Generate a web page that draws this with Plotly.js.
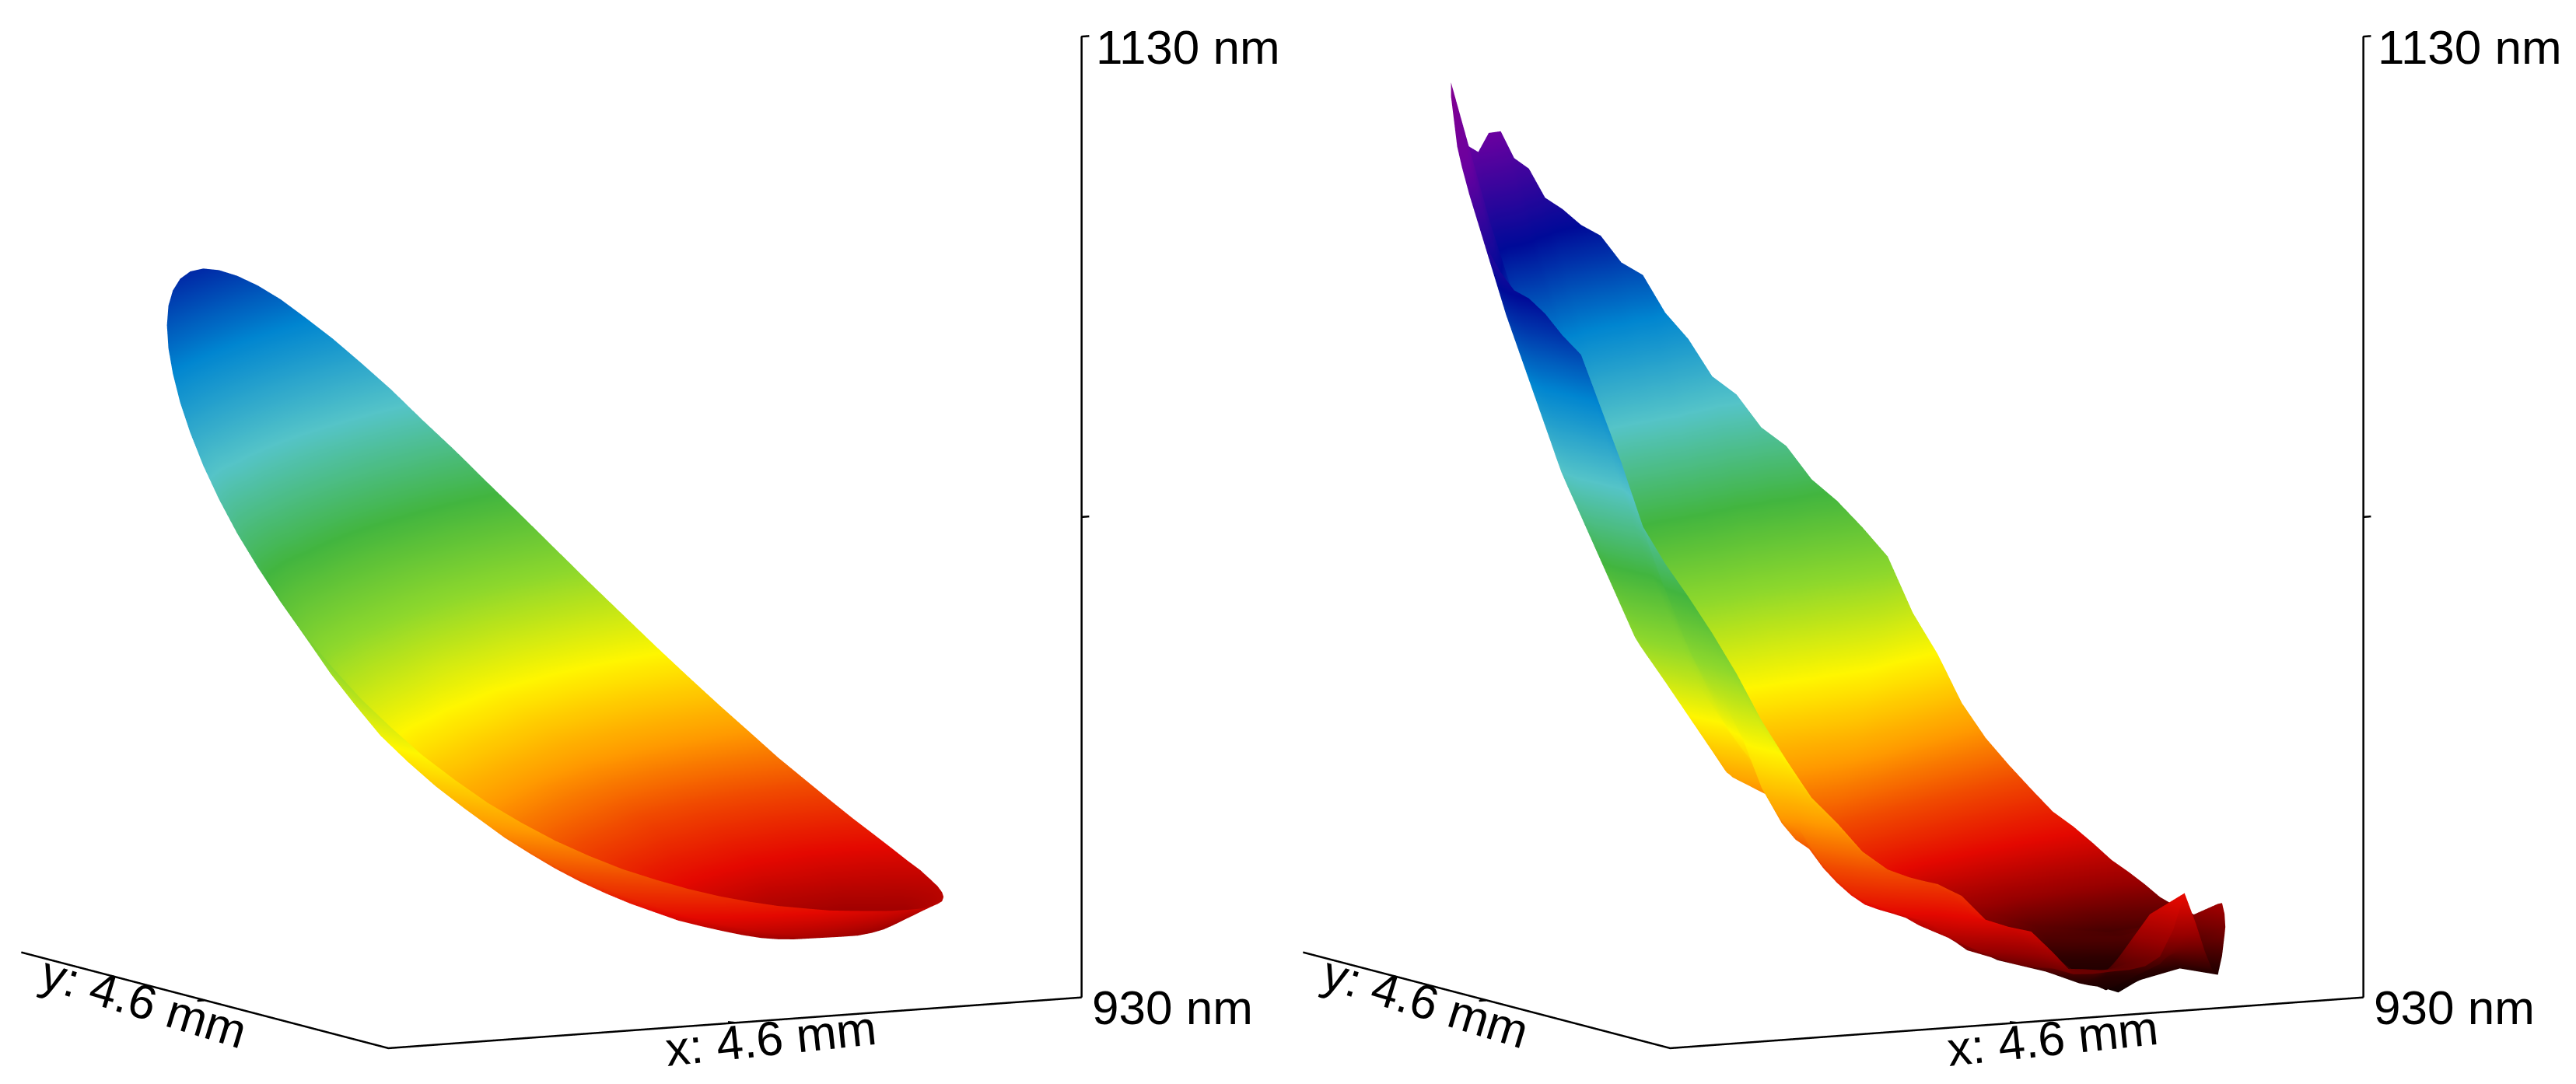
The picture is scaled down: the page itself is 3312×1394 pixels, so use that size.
<!DOCTYPE html>
<html>
<head>
<meta charset="utf-8">
<script src="https://cdn.plot.ly/plotly-3.0.1.min.js"></script>
<style>html,body{margin:0;padding:0;background:#fff}</style>
</head>
<body>
<div id="plot" style="width:3312px;height:1394px"></div>
<script>
var ringsLeft = [0, 0.3, 0.55, 0.75, 0.9, 1];
var anglesLeft = [0,5,10,15,20,25,30,35,40,45,50,55,60,65,70,75,80,85,90,95,100,105,110,115,120,125,130,135,140,145,150,155,160,165,170,175,180,185,190,195,200,205,210,215,220,225,230,235,240,245,250,255,260,265,270,275,280,285,290,295,300,305,310,315,320,325,330,335,340,345,350,355];
var zLeft = [
  [969,969,969,969,969,969,969,969,969,969,969,969,969,969,969,969,969,969,969,969,969,969,969,969,969,969,969,969,969,969,969,969,969,969,969,969,969,969,969,969,969,969,969,969,969,969,969,969,969,969,969,969,969,969,969,969,969,969,969,969,969,969,969,969,969,969,969,969,969,969,969,969],
  [954.3,954.7,955.4,956.0,956.8,957.6,958.5,959.6,960.8,962.1,963.5,964.9,966.5,968.0,969.6,971.3,973.1,974.8,976.5,978.2,979.9,981.5,983.0,984.5,985.8,987.1,988.2,989.1,989.9,990.5,991.0,991.3,991.5,991.4,991.2,990.8,990.2,989.4,988.6,987.4,986.3,984.9,983.6,982.0,980.6,978.9,977.2,975.6,973.8,972.1,970.5,969.0,967.4,965.9,964.4,963.1,961.8,960.6,959.5,958.4,957.5,956.6,955.9,955.2,954.6,954.2,954.0,953.7,953.6,953.6,953.8,954.0],
  [946.5,947.2,948.2,949.3,950.5,951.6,953.2,954.8,956.7,958.7,961.1,963.5,966.3,969.2,972.2,975.4,978.7,982.0,985.4,988.8,992.1,995.3,998.5,1001.5,1004.3,1006.8,1009.1,1011.1,1012.7,1014.0,1015.0,1015.6,1015.8,1015.7,1015.0,1014.2,1012.8,1011.2,1009.3,1006.7,1004.1,1001.3,998.3,995.0,991.8,988.3,984.8,981.4,977.7,974.8,971.8,969.0,966.3,963.8,961.2,959.0,956.9,955.1,953.3,951.7,950.3,949.0,947.9,946.9,946.1,945.6,945.1,945.0,944.9,945.1,945.5,945.9],
  [943.5,944.4,945.5,946.8,947.9,949.3,950.9,952.9,955.1,957.7,960.7,963.9,967.6,971.5,975.7,980.0,984.7,989.4,994.3,999.1,1004.0,1008.7,1013.3,1017.9,1022.0,1025.8,1029.1,1032.2,1034.6,1036.5,1037.9,1038.7,1039.0,1038.7,1037.7,1036.3,1034.2,1031.8,1029.0,1024.9,1020.9,1016.7,1012.2,1007.5,1002.6,997.5,992.4,987.5,982.2,978.2,974.1,970.4,966.8,963.6,960.5,957.7,955.2,952.9,950.9,948.9,947.4,946.0,944.7,943.6,942.8,942.2,941.8,941.7,941.7,941.9,942.4,942.8],
  [943.8,944.5,945.4,946.5,947.5,948.8,950.5,952.6,955.0,958.0,961.3,965.0,969.4,974.0,979.0,984.4,990.0,995.8,1001.9,1008.1,1014.1,1020.2,1025.9,1031.7,1037.0,1041.8,1046.0,1049.9,1053.0,1055.4,1057.2,1058.2,1058.6,1058.1,1056.8,1054.9,1052.3,1049.0,1045.4,1040.3,1035.4,1030.1,1024.6,1018.6,1012.8,1006.6,1000.4,994.5,988.5,983.5,978.7,974.3,970.1,966.3,962.8,959.8,957.0,954.7,952.4,950.6,948.9,947.5,946.3,945.2,944.3,943.7,943.2,943.0,942.9,942.9,943.2,943.3],
  [946.2,946.2,946.5,947.0,948.0,949.1,950.8,952.9,955.4,958.5,962.1,966.1,970.9,976.0,981.6,987.6,994.0,1000.6,1007.5,1014.5,1021.4,1028.4,1035.0,1041.7,1047.7,1053.3,1058.2,1062.7,1066.3,1069.1,1071.1,1072.3,1072.6,1072.0,1070.5,1068.3,1065.2,1061.4,1057.1,1052.0,1046.6,1040.7,1034.6,1028.3,1022.0,1015.5,1009.1,1003.1,997.1,991.6,986.2,981.4,976.8,972.8,969.1,965.9,963.0,960.6,958.4,956.5,954.9,953.5,952.4,951.3,950.5,949.7,948.9,948.25,947.6,947.0,946.7,946.3]
];
var ringsRight = [0, 0.3, 0.55, 0.75, 0.9, 1];
var anglesRight = [0,3.75,7.5,11.25,15,18.75,22.5,26.25,30,33.75,37.5,41.25,45,48.75,52.5,56.25,60,63.75,67.5,71.25,75,78.75,82.5,86.25,90,93.75,97.5,101.25,105,108.75,112.5,116.25,120,123.75,127.5,131.25,135,138.75,142.5,146.25,150,153.75,157.5,161.25,165,168,173.7,186.3,192,195,198.75,202.5,206.25,210,213.75,217.5,221.25,225,228.75,232.5,236.25,240,243.75,247.5,251.25,255,258.75,262.5,266.25,270,273.75,277.5,281.25,285,288.75,292.5,296.25,300,303.75,307.5,311.25,315,318.75,322.5,326.25,330,333.5,337.5,341.25,345,348.75,352.5,356.25];
var zRight = [
  [960,960,960,960,960,960,960,960,960,960,960,960,960,960,960,960,960,960,960,960,960,960,960,960,960,960,960,960,960,960,960,960,960,960,960,960,960,960,960,960,960,960,960,960,960,960,960,960,960,960,960,960,960,960,960,960,960,960,960,960,960,960,960,960,960,960,960,960,960,960,960,960,960,960,960,960,960,960,960,960,960,960,960,960,960,960,960,960,960,960,960,960,960],
  [941.4,942.0,942.4,942.9,943.4,944.2,944.8,946.0,947.0,948.3,949.7,951.2,952.7,954.3,956.0,957.5,959.2,960.8,962.6,964.3,966.3,968.0,969.9,971.3,972.4,973.3,974.4,975.0,975.9,976.3,977.0,977.3,977.9,977.8,978.1,977.8,977.7,977.4,977.5,977.1,977.2,976.6,975.8,975.5,975.2,975.3,975.6,974.9,973.9,973.6,973.2,973.0,972.6,972.5,972.4,972.6,972.6,972.5,972.3,971.6,970.7,969.7,969.0,968.4,967.6,966.7,965.6,964.4,963.3,962.3,961.1,960.1,959.1,958.1,956.8,955.5,954.2,953.0,951.5,950.0,948.9,947.8,946.8,945.8,945.0,944.6,944.5,943.1,942.1,941.2,940.8,940.9,941.2],
  [934.2,935.2,936.0,936.4,936.8,937.4,937.8,939.3,940.6,942.3,944.4,946.5,948.7,951.2,953.7,956.0,958.9,961.7,964.8,968.2,972.6,976.2,980.8,983.4,985.9,987.9,990.6,992.0,994.4,995.6,998.1,999.7,1002.0,1002.5,1003.9,1004.1,1004.8,1004.9,1006.3,1006.5,1007.8,1007.2,1005.5,1005.6,1005.5,1006.3,1008.7,1007.8,1004.9,1003.8,1002.3,1001.0,999.6,998.6,998.0,997.9,997.4,996.5,995.6,992.7,989.5,985.7,982.4,979.4,974.1,967.5,964.2,962.3,958.4,955.3,952.7,950.7,949.6,948.7,947.7,946.0,944.7,943.6,941.9,940.0,939.1,938.3,937.1,936.4,936.4,938.9,940.1,937.2,934.6,932.7,931.9,932.7,933.8],
  [933.8,935.2,936.3,936.4,936.0,936.1,935.8,937.3,938.3,940.0,942.2,944.4,946.7,949.6,952.5,955.2,958.8,962.6,966.7,971.6,978.2,983.8,991.1,995.2,998.8,1001.8,1006.1,1008.6,1012.7,1015.0,1019.6,1022.6,1027.1,1028.5,1031.6,1032.7,1034.3,1035.6,1038.8,1039.9,1042.9,1042.5,1040.2,1040.8,1041.4,1043.1,1048.4,1047.5,1042.2,1040.1,1037.4,1034.7,1031.8,1029.9,1028.4,1028.0,1026.7,1024.6,1022.9,1017.2,1011.1,1003.9,998.7,994.0,986.7,977.0,970.8,968.9,962.6,958.2,954.7,953.0,951.4,950.1,948.8,946.0,943.7,941.8,940.7,938.9,937.8,937.3,935.7,934.8,932.9,932.0,931.3,930.0,930.6,928.5,929.5,931.1,933.1],
  [936.6,938.4,939.7,939.3,938.2,937.6,936.6,937.6,938.3,939.6,941.7,943.8,946.1,949.1,952.1,954.8,958.9,963.2,968.1,974.2,982.8,990.0,999.8,1004.9,1009.7,1013.5,1019.4,1022.7,1028.5,1031.7,1038.2,1042.9,1049.5,1051.7,1056.5,1058.4,1061.3,1063.5,1068.5,1070.6,1075.4,1075.3,1072.5,1073.7,1075.0,1077.6,1085.8,1085.1,1077.6,1074.6,1070.6,1066.6,1062.3,1059.3,1056.9,1056.2,1054.1,1051.0,1048.2,1039.8,1031.0,1020.4,1014.4,1009.1,1003.2,996.4,988.6,981.8,975.3,970.9,965.7,962.3,960.4,959.0,956.4,951.8,949.8,948.2,944.0,939.5,938.7,938.3,937.6,937.4,938.1,941.8,947.1,936.1,937.7,935.9,933.3,932.9,935.8],
  [940,942,943.5,942.6,941,939.7,938,938.8,939,940,942,944,946,949,952,954.7,959,963.7,969,976,986,994.4,1006,1012,1017.5,1022,1029,1033,1040,1044,1052,1057.8,1066,1069,1075,1077.7,1081.5,1084.4,1091,1093.8,1100,1100.3,1097,1098.8,1100.6,1104,1114.5,1114,1104.7,1101,1096,1091,1085.5,1081.8,1078.7,1077.6,1075,1071,1067.5,1057,1046,1033,1025.6,1019,1011.7,1003.5,994,985.8,978,972.8,966.8,963,961,959.7,957,951.8,950,948.7,944,939,938.6,938.6,938.4,938.6,940,945,952,945,938.5,934,932.2,935.4,939]
];
var colorZ = [925,933,942,951,960,971,986,1003,1019,1038,1058,1078,1100,1130];
var colorHex = ['#000000','#2a0000','#960000','#e40800','#f04800','#ff9a00','#fff600','#8ed82c','#42b53f','#55c4c8','#0085d0','#000a98','#6a00a0','#9a0080'];
var zMin = 930, zMax = 1130;
var spanMm = 4.6;
var discX = 2.32, discY = 2.29, discR = 2.277;
var viewTurn = 27.9;
var cMin = colorZ[0], cMax = colorZ[colorZ.length - 1];

var colorscale = colorZ.map(function(v, i) { return [(v - cMin) / (cMax - cMin), colorHex[i]]; });

// rings in the view frame turned into x/y on the 4.6 mm square
function ringGrid(radii, angles, zRows) {
  var xs = [], ys = [], zs = [];
  radii.forEach(function(r, i) {
    var rowX = [], rowY = [], rowZ = [];
    angles.concat([angles[0]]).forEach(function(t, j) {
      var th = (t - viewTurn) * Math.PI / 180;
      rowX.push(discX + discR * r * Math.cos(th));
      rowY.push(discY + discR * r * Math.sin(th));
      rowZ.push(zRows[i][j % angles.length]);
    });
    xs.push(rowX); ys.push(rowY); zs.push(rowZ);
  });
  return {x: xs, y: ys, z: zs};
}

function surfaceTrace(grid, scene) {
  return {
    type: 'surface', scene: scene, x: grid.x, y: grid.y, z: grid.z,
    cmin: cMin, cmax: cMax, colorscale: colorscale, showscale: false, hoverinfo: 'skip',
    lighting: {ambient: 1, diffuse: 0, specular: 0, roughness: 1, fresnel: 0}
  };
}

function axisTrace(scene) {
  return {
    type: 'scatter3d', mode: 'lines', scene: scene, hoverinfo: 'skip', showlegend: false,
    x: [spanMm, 0, 0, null, spanMm, spanMm, spanMm + 0.05, null, spanMm, spanMm + 0.05, null, spanMm / 2, spanMm / 2 - 0.02, null, 0, -0.05],
    y: [0, 0, spanMm, null, 0, 0, 0, null, 0, 0, null, 0, 0.05, null, spanMm / 2, spanMm / 2],
    z: [zMin, zMin, zMin, null, zMin, zMax, zMax, null, (zMin + zMax) / 2, (zMin + zMax) / 2, null, zMin, zMin, null, zMin, zMin],
    line: {color: '#000', width: 5}
  };
}

function sceneLayout(left) {
  var hidden = {visible: false};
  return {
    domain: {x: [left / 3312, (left + 1418) / 3312], y: [0, 1]},
    xaxis: Object.assign({range: [-0.1, 4.7]}, hidden),
    yaxis: Object.assign({range: [-0.1, 4.7]}, hidden),
    zaxis: Object.assign({range: [925, 1135]}, hidden),
    aspectmode: 'manual',
    aspectratio: {x: 1.510, y: 1.510, z: 1.8795},
    camera: {
      projection: {type: 'orthographic'},
      up: {x: 0, y: 0, z: 1},
      center: {x: 0, y: 0, z: -0.0886},
      eye: {x: -0.4633 * 2, y: -0.875 * 2, z: 0.1383 * 2 - 0.0886}
    }
  };
}

function label(text, px, py, angle) {
  return {
    text: text, xref: 'paper', yref: 'paper', x: px / 3312, y: 1 - py / 1394,
    xanchor: 'center', yanchor: 'middle', showarrow: false, textangle: angle,
    font: {family: 'Liberation Sans', size: 62, color: '#000'}
  };
}

var panelOffsets = [0, 1648];
var annotations = [];
panelOffsets.forEach(function(dx) {
  annotations.push(label('1130 nm', 1527 + dx, 60, 0));
  annotations.push(label('930 nm', 1507 + dx, 1295, 0));
  annotations.push(label('x: 4.6 mm', 991 + dx, 1335, -6));
  annotations.push(label('y: 4.6 mm', 185 + dx, 1288, 17));
});

var traces = [
  surfaceTrace(ringGrid(ringsLeft, anglesLeft, zLeft), 'scene'), axisTrace('scene'),
  surfaceTrace(ringGrid(ringsRight, anglesRight, zRight), 'scene2'), axisTrace('scene2')
];
var layout = {
  width: 3312, height: 1394, margin: {l: 0, r: 0, t: 0, b: 0},
  paper_bgcolor: '#fff', showlegend: false,
  scene: sceneLayout(0), scene2: sceneLayout(1648),
  annotations: annotations
};
Plotly.newPlot('plot', traces, layout, {displayModeBar: false});
</script>
</body>
</html>
